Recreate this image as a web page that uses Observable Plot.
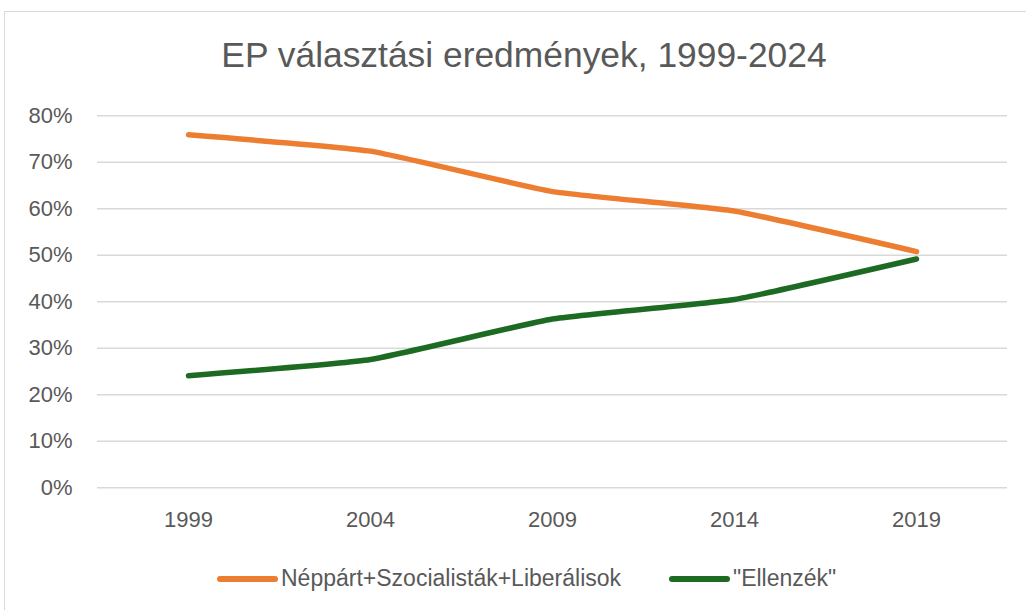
<!DOCTYPE html>
<html>
<head>
<meta charset="utf-8">
<script src="https://cdn.jsdelivr.net/npm/d3@7"></script>
<script src="https://cdn.jsdelivr.net/npm/@observablehq/plot@0.6"></script>
<style>
  html, body { margin: 0; padding: 0; background: #fff; }
  body { width: 1026px; height: 610px; overflow: hidden; position: relative; font-family: "Liberation Sans", Arial, sans-serif; }
  #frame { position: absolute; left: 4px; top: 11px; width: 1040px; height: 620px; border: 1.5px solid #d9d9d9; box-sizing: border-box; }
  #title { position: absolute; left: 11px; top: 0; width: 1026px; height: 95px; text-align: center; line-height: 110px; font-size: 35.4px; color: #595959; }
  #chart { position: absolute; left: 0; top: 95px; }
  #legend { position: absolute; left: 0; top: 563px; width: 1026px; height: 30px; font-size: 23px; color: #595959; }
  .item { position: absolute; top: 0; height: 30px; line-height: 30px; white-space: nowrap; }
  .sw { display: inline-block; width: 61px; height: 6px; border-radius: 3px; vertical-align: middle; margin-right: 3px; position: relative; top: -1px; }
</style>
</head>
<body>
<div id="frame"></div>
<div id="title">EP választási eredmények, 1999-2024</div>
<div id="chart"></div>
<div id="legend"></div>
<script>
const years = ["1999", "2004", "2009", "2014", "2019"];
const seriesNames = ["Néppárt+Szocialisták+Liberálisok", "\"Ellenzék\""];
const govValues = [0.759, 0.724, 0.637, 0.595, 0.508];
const oppValues = [0.241, 0.276, 0.363, 0.405, 0.492];
const colors = ["#ED7D31", "#1D6B22"];
const yTicks = [0, 0.1, 0.2, 0.3, 0.4, 0.5, 0.6, 0.7, 0.8];

const rows = [];
years.forEach((y, i) => {
  rows.push({year: y, series: seriesNames[0], value: govValues[i]});
  rows.push({year: y, series: seriesNames[1], value: oppValues[i]});
});

const chart = Plot.plot({
  width: 1026,
  height: 445,
  marginLeft: 97,
  marginRight: 19,
  marginTop: 20.3,
  marginBottom: 52.7,
  style: {fontFamily: "'Liberation Sans', Arial, sans-serif", fontSize: "22px", color: "#595959", background: "transparent"},
  x: {type: "point", domain: years, padding: 0.5, label: null, tickSize: 0, tickPadding: 24},
  y: {domain: [0, 0.8], ticks: yTicks, tickFormat: d3.format(".0%"), label: null, tickSize: 0, tickPadding: 25},
  color: {domain: seriesNames, range: colors},
  marks: [
    Plot.ruleY(yTicks, {stroke: "#d9d9d9", strokeWidth: 1.5}),
    Plot.line(rows, {x: "year", y: "value", z: "series", stroke: "series", strokeWidth: 5.5, curve: "cardinal", tension: 0.6, strokeLinecap: "round", strokeLinejoin: "round"})
  ]
});
chart.querySelectorAll("text").forEach(t => t.setAttribute("fill", "#595959"));
document.getElementById("chart").appendChild(chart);

const legend = document.getElementById("legend");
const positions = [217, 669];
seriesNames.forEach((name, i) => {
  const item = document.createElement("div");
  item.className = "item";
  item.style.left = positions[i] + "px";
  const sw = document.createElement("span");
  sw.className = "sw";
  sw.style.background = colors[i];
  item.appendChild(sw);
  item.appendChild(document.createTextNode(name));
  legend.appendChild(item);
});
</script>
</body>
</html>
